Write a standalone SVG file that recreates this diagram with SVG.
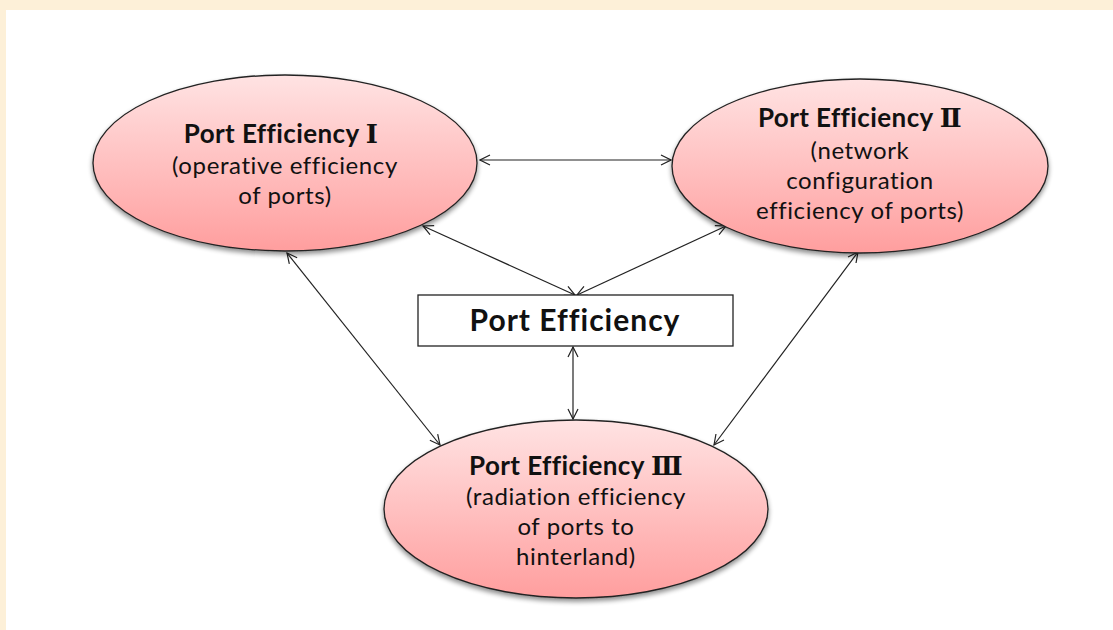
<svg xmlns="http://www.w3.org/2000/svg" width="1113" height="630" viewBox="0 0 1113 630">
<defs>
<linearGradient id="pink" x1="0" y1="0" x2="0" y2="1">
<stop offset="0" stop-color="#ffe3e3"/>
<stop offset="1" stop-color="#ff9e9e"/>
</linearGradient>
<filter id="shadow" x="-10%" y="-10%" width="120%" height="130%">
<feGaussianBlur in="SourceAlpha" stdDeviation="2.5"/>
<feOffset dx="0" dy="3" result="b"/>
<feComponentTransfer><feFuncA type="linear" slope="0.45"/></feComponentTransfer>
<feMerge><feMergeNode/><feMergeNode in="SourceGraphic"/></feMerge>
</filter>
<marker id="arr" viewBox="0 0 12 12" refX="11" refY="6" markerWidth="12" markerHeight="12" markerUnits="userSpaceOnUse" orient="auto-start-reverse">
<path d="M1,1 L11,6 L1,11" fill="none" stroke="#222" stroke-width="1.2"/>
</marker>
</defs>
<style>
.ell{fill:url(#pink);stroke:#222;stroke-width:1.3;filter:url(#shadow)}
.t{font-family:Lato,"Open Sans",sans-serif;font-size:24px;letter-spacing:0.6px;font-variant-ligatures:none;fill:#111;text-anchor:middle}
.b{font-weight:bold;font-size:26px;letter-spacing:0.4px}
.rn{font-family:"DejaVu Serif","Liberation Serif",serif;font-weight:bold;font-size:26px}
.c{stroke:#222;stroke-width:1.2;fill:none;marker-start:url(#arr);marker-end:url(#arr)}
</style>
<rect x="0" y="0" width="1113" height="630" fill="#fdf0d8"/>
<rect x="6" y="10" width="1107" height="620" fill="#ffffff"/>
<g id="connectors">
<line class="c" x1="480" y1="160" x2="671" y2="160"/>
<line class="c" x1="423" y1="226" x2="575" y2="295"/>
<line class="c" x1="726" y1="226" x2="577" y2="295"/>
<line class="c" x1="573" y1="347" x2="573" y2="419"/>
<line class="c" x1="287" y1="253" x2="440" y2="445"/>
<line class="c" x1="858" y1="252" x2="714" y2="445"/>
</g>
<g id="pe1">
<ellipse class="ell" cx="285" cy="163" rx="192" ry="88"/>
<text class="t b" x="281" y="143">Port Efficiency <tspan class="rn">Ⅰ</tspan></text>
<text class="t" x="285" y="174">(operative efficiency</text>
<text class="t" x="285" y="204">of ports)</text>
</g>
<g id="pe2">
<ellipse class="ell" cx="860" cy="166" rx="188" ry="87"/>
<text class="t b" x="860" y="127">Port Efficiency <tspan class="rn">Ⅱ</tspan></text>
<text class="t" x="860" y="159">(network</text>
<text class="t" x="860" y="189">configuration</text>
<text class="t" x="860" y="219">efficiency of ports)</text>
</g>
<g id="pe3">
<ellipse class="ell" cx="576" cy="509" rx="192" ry="89"/>
<text class="t b" x="576" y="475">Port Efficiency <tspan class="rn">Ⅲ</tspan></text>
<text class="t" x="576" y="505">(radiation efficiency</text>
<text class="t" x="576" y="535">of ports to</text>
<text class="t" x="576" y="565">hinterland)</text>
</g>
<g id="pe">
<rect x="418" y="295" width="315" height="51" fill="#fff" stroke="#222" stroke-width="1.3"/>
<text class="t b" x="575" y="331" style="font-size:30px;letter-spacing:1px">Port Efficiency</text>
</g>
</svg>
